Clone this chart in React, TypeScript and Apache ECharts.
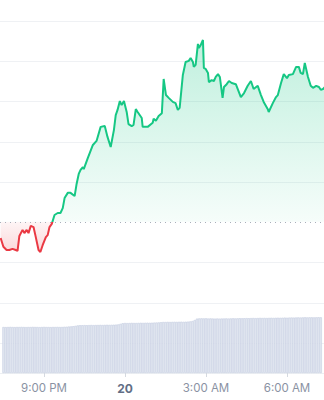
import React, { useEffect, useRef } from 'react';
import * as echarts from 'echarts';

// Price samples: minutes relative to 9:00 PM, and price (in grid units)
const priceMinutes = [
  -91, -85, -78, -72, -65, -58, -54, -50, -43, -39, -34, -30, -25, -19, -15, -8, -4, 1, 8, 12,
  16, 21, 27, 34, 40, 45, 49, 56, 62, 71, 75, 80, 84, 89, 91, 100, 111, 119, 128, 137,
  143, 150, 157, 161, 165, 170, 174, 179, 185, 189, 196, 200, 205, 209, 218, 220, 231, 242, 244, 249,
  255, 262, 266, 271, 277, 286, 292, 297, 301, 308, 314, 321, 325, 330, 332, 336, 341, 343, 347, 352,
  354, 358, 363, 365, 371, 376, 380, 385, 389, 395, 398, 404, 409, 415, 424, 435, 442, 450, 457, 463,
  472, 479, 485, 494, 496, 505, 512, 516, 523, 529, 536, 540, 549, 556, 562, 566, 571, 575, 582, 588,
  593, 600, 606, 610, 615, 619,
];
const priceValues = [
  2.61, 2.39, 2.31, 2.31, 2.34, 2.31, 2.29, 2.66, 2.81, 2.73, 2.81, 2.73, 2.91, 2.88, 2.68, 2.31, 2.26, 2.43, 2.63, 2.68,
  2.88, 2.96, 3.18, 3.23, 3.23, 3.35, 3.6, 3.73, 3.73, 3.65, 3.93, 4.2, 4.3, 4.37, 4.32, 4.6, 4.92, 5.02, 5.37, 5.39,
  5.12, 4.87, 5.29, 5.66, 5.79, 6.01, 5.91, 6.01, 5.74, 5.44, 5.39, 5.42, 5.81, 5.74, 5.59, 5.37, 5.37, 5.47, 5.57, 5.52,
  5.64, 5.71, 6.56, 6.16, 6.09, 5.99, 5.96, 5.79, 5.84, 6.66, 6.98, 7.01, 7.08, 6.98, 6.86, 6.91, 7.43, 7.33, 7.4, 7.53,
  6.83, 6.81, 6.71, 6.48, 6.53, 6.51, 6.61, 6.68, 6.61, 6.09, 6.36, 6.43, 6.51, 6.46, 6.43, 6.11, 6.21, 6.39, 6.51, 6.31,
  6.39, 6.16, 5.99, 5.81, 5.74, 5.96, 6.11, 6.16, 6.46, 6.68, 6.58, 6.66, 6.68, 6.86, 6.86, 6.71, 6.68, 6.96, 6.61, 6.39,
  6.34, 6.39, 6.36, 6.29, 6.31, 6.36,
];
const openPrice = 3.01;

// Volume bars every 5 minutes starting 7:30 PM (-90 min)
const volumeStartMinute = -90;
const volumeStepMinutes = 5;
const volumeValues = [
  46.0, 45.9, 46.0, 46.1, 46.0, 45.9, 46.0, 46.0, 46.1, 46.0, 45.9, 46.0, 46.0, 46.1, 46.0, 46.0, 45.9, 46.0, 46.1, 46.0,
  46.0, 45.9, 46.0, 46.0, 46.1, 46.0, 46.0,
  46.2, 46.3, 46.5, 46.6, 46.8, 47.2, 47.6, 47.8,
  47.8, 47.9, 47.8, 47.9, 48.0, 47.9, 48.0, 48.0, 48.1, 48.0, 48.1, 48.2, 48.1, 48.2, 48.3, 48.4, 48.6, 49.2,
  49.8, 50.0, 49.9, 50.0, 50.1, 50.0, 50.0, 50.1, 50.2, 50.1, 50.2, 50.3, 50.2, 50.3, 50.4, 50.5, 50.6, 50.8,
  51.0, 51.0, 51.1, 51.0, 51.1, 51.2, 51.1, 51.2, 51.3, 51.2, 51.3, 51.4, 51.6, 52.0, 53.0,
  54.4, 54.6, 54.7, 54.6, 54.7, 54.5, 54.6, 54.5, 54.4, 54.5, 54.4, 54.5, 54.5, 54.6, 54.5, 54.6, 54.7, 54.6, 54.7, 54.8,
  54.7, 54.8, 54.9, 54.8,
  54.9, 55.0, 54.9, 55.0, 55.1, 55.0, 55.1, 55.0, 55.1, 55.2, 55.1, 55.2, 55.3, 55.2, 55.3, 55.4, 55.3, 55.4, 55.5, 55.4,
  55.5, 55.6, 55.5, 55.6, 55.7, 55.6, 55.7, 55.7, 55.6, 55.7, 55.8, 55.7,
];

// X axis ticks (minutes relative to 9:00 PM) and labels
const tickMinutes = [0, 180, 360, 540];
const tickLabels = ['9:00 PM', '20', '3:00 AM', '6:00 AM'];
const dayLabel = '20';

const GREEN = '#16c784';
const RED = '#ea3943';

// the axis runs 6:00 PM .. 9:00 AM; the visible window shows ~7:29 PM .. 7:19 AM
const X_MIN = -180;
const X_MAX = 720;
const PX_PER_MIN = 0.4562;
const VIEW_START_MIN = -91.2;

export default function App() {
  const ref = useRef<HTMLDivElement>(null);
  useEffect(() => {
    if (!ref.current) return;
    const chart = echarts.init(ref.current, null, { renderer: 'svg' });
    const priceData = priceMinutes.map((m, i) => [m, priceValues[i]]);
    const volData = volumeValues.map((v, i) => [volumeStartMinute + i * volumeStepMinutes, v]);
    const maxP = Math.max(...priceValues);
    const minP = Math.min(...priceValues);
    const off = (maxP - openPrice) / (maxP - minP);
    const splitColors = Array.from({ length: 9 }, (_, i) => (i === 3 ? 'rgba(0,0,0,0)' : '#eff1f4'));

    chart.setOption({
      animation: false,
      backgroundColor: '#ffffff',
      grid: [
        { left: 0, right: 0, top: 21, height: 322 },
        { left: 0, right: 0, top: 300, height: 73 },
      ],
      xAxis: [
        { type: 'value', gridIndex: 0, min: X_MIN, max: X_MAX, interval: 180, show: false },
        {
          type: 'value',
          gridIndex: 1,
          min: X_MIN,
          max: X_MAX,
          interval: 180,
          splitLine: { show: false },
          axisLine: { show: true, lineStyle: { color: '#eceff3' } },
          axisTick: { show: true, length: 4, lineStyle: { color: '#d5d9e0' } },
          axisLabel: {
            margin: 9,
            color: '#8a92a3',
            fontSize: 11.5,
            fontFamily: 'Inter',
            formatter: (v: number) => {
              const i = tickMinutes.indexOf(v);
              const t = i >= 0 ? tickLabels[i] : '';
              return t === dayLabel ? `{b|${t}}` : t;
            },
            rich: {
              b: { fontWeight: 'bold', color: '#616e85', fontSize: 12, fontFamily: 'Inter' },
            },
          },
        },
      ],
      yAxis: [
        {
          type: 'value',
          gridIndex: 0,
          min: 0,
          max: 8,
          interval: 1,
          axisLabel: { show: false },
          axisLine: { show: false },
          axisTick: { show: false },
          splitLine: { show: true, lineStyle: { color: splitColors, width: 1 } },
        },
        { type: 'value', gridIndex: 1, min: 0, max: 73, show: false, splitLine: { show: false } },
      ],
      series: [
        {
          type: 'bar',
          xAxisIndex: 1,
          yAxisIndex: 1,
          data: volData,
          barWidth: 2.28,
          silent: true,
          itemStyle: { color: '#e7ebf3', borderColor: '#c4cce0', borderWidth: 0.6 },
        },
        {
          type: 'line',
          xAxisIndex: 0,
          yAxisIndex: 0,
          data: priceData,
          showSymbol: false,
          symbol: 'none',
          z: 4,
          lineStyle: {
            width: 2,
            color: new echarts.graphic.LinearGradient(0, 0, 0, 1, [
              { offset: 0, color: GREEN },
              { offset: off, color: GREEN },
              { offset: off, color: RED },
              { offset: 1, color: RED },
            ]),
          },
          markLine: {
            silent: true,
            symbol: ['none', 'none'],
            label: { show: false },
            lineStyle: { type: [1, 4], color: '#a9afba', width: 1 },
            data: [{ yAxis: openPrice }],
          },
        },
        {
          type: 'line',
          xAxisIndex: 0,
          yAxisIndex: 0,
          data: priceData,
          showSymbol: false,
          symbol: 'none',
          z: 2,
          lineStyle: { width: 0 },
          areaStyle: {
            origin: openPrice,
            opacity: 1,
            color: new echarts.graphic.LinearGradient(0, 0, 0, 1, [
              { offset: 0, color: 'rgba(22,199,132,0.27)' },
              { offset: off, color: 'rgba(22,199,132,0.04)' },
              { offset: off, color: 'rgba(234,57,67,0.05)' },
              { offset: 1, color: 'rgba(234,57,67,0.2)' },
            ]),
          },
        },
      ],
    });
    return () => chart.dispose();
  }, []);

  const innerWidth = (X_MAX - X_MIN) * PX_PER_MIN;
  const innerLeft = -(VIEW_START_MIN - X_MIN) * PX_PER_MIN;
  return (
    <div
      style={{
        position: 'fixed',
        left: 0,
        top: 0,
        width: 324,
        height: 400,
        overflow: 'hidden',
        background: '#fff',
      }}
    >
      <div
        ref={ref}
        style={{ position: 'absolute', left: innerLeft, top: 0, width: innerWidth, height: 400 }}
      />
    </div>
  );
}
